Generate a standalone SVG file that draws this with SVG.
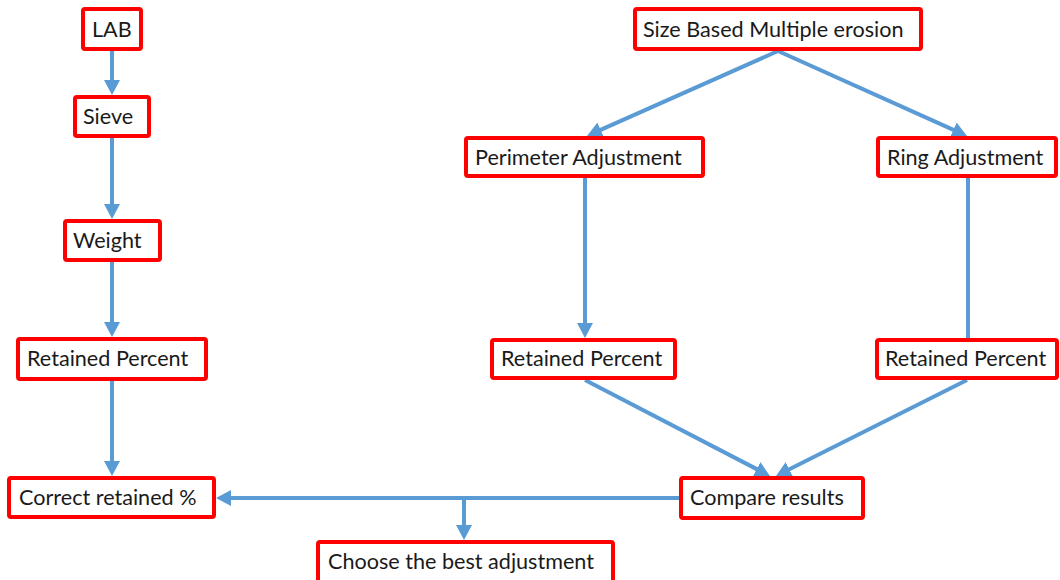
<svg xmlns="http://www.w3.org/2000/svg" width="1060" height="580" viewBox="0 0 1060 580">
  <style>
    .box { fill: #ffffff; stroke: #ff0000; stroke-width: 4; }
    .lbl { font-family: Lato, "Liberation Sans", sans-serif; font-size: 21.6px; fill: #1a1a1a; }
    .edge { fill: none; stroke: #5b9bd5; stroke-width: 4; }
  </style>
  <defs>
    <marker id="arrow" markerUnits="userSpaceOnUse" markerWidth="16" markerHeight="16" refX="5" refY="8" orient="auto">
      <path d="M0,0 L15,8 L0,16 Z" fill="#5b9bd5"/>
    </marker>
  </defs>
  <rect width="1060" height="580" fill="#ffffff"/>

  <g id="connectors">
    <line class="edge" x1="112" y1="51" x2="112" y2="85" marker-end="url(#arrow)"/>
    <line class="edge" x1="112" y1="138" x2="112" y2="209" marker-end="url(#arrow)"/>
    <line class="edge" x1="112" y1="262" x2="112" y2="327" marker-end="url(#arrow)"/>
    <line class="edge" x1="112" y1="381" x2="112" y2="466" marker-end="url(#arrow)"/>
    <line class="edge" x1="778" y1="51" x2="596.1" y2="131.9" marker-end="url(#arrow)"/>
    <line class="edge" x1="778" y1="51" x2="957.9" y2="131.9" marker-end="url(#arrow)"/>
    <line class="edge" x1="585" y1="178" x2="585" y2="328" marker-end="url(#arrow)"/>
    <line class="edge" x1="968" y1="178" x2="968" y2="338"/>
    <line class="edge" x1="585" y1="380" x2="761.1" y2="471.4" marker-end="url(#arrow)"/>
    <line class="edge" x1="967" y1="380" x2="784.9" y2="471.5" marker-end="url(#arrow)"/>
    <line class="edge" x1="679" y1="498" x2="226" y2="498" marker-end="url(#arrow)"/>
    <line class="edge" x1="464" y1="498" x2="464" y2="530" marker-end="url(#arrow)"/>
  </g>

  <g id="lab">
    <rect class="box" x="83" y="9" width="58" height="40" rx="2"/>
    <text class="lbl" x="92" y="37">LAB</text>
  </g>
  <g id="sieve">
    <rect class="box" x="75" y="97" width="74" height="39" rx="2"/>
    <text class="lbl" x="83" y="124">Sieve</text>
  </g>
  <g id="weight">
    <rect class="box" x="65" y="221" width="95" height="39" rx="2"/>
    <text class="lbl" x="73" y="248">Weight</text>
  </g>
  <g id="retained-lab">
    <rect class="box" x="18" y="339" width="188" height="40" rx="2"/>
    <text class="lbl" x="27" y="366">Retained Percent</text>
  </g>
  <g id="correct-retained">
    <rect class="box" x="9" y="478" width="205" height="39" rx="2"/>
    <text class="lbl" x="19" y="505">Correct retained %</text>
  </g>
  <g id="choose-best">
    <rect class="box" x="318" y="542" width="295" height="42" rx="2"/>
    <text class="lbl" x="328" y="569">Choose the best adjustment</text>
  </g>
  <g id="size-based">
    <rect class="box" x="635" y="9" width="286" height="40" rx="2"/>
    <text class="lbl" x="643" y="37">Size Based Multiple erosion</text>
  </g>
  <g id="perimeter">
    <rect class="box" x="466" y="138" width="237" height="38" rx="2"/>
    <text class="lbl" x="475" y="165">Perimeter Adjustment</text>
  </g>
  <g id="ring">
    <rect class="box" x="878" y="138" width="178" height="38" rx="2"/>
    <text class="lbl" x="887" y="165">Ring Adjustment</text>
  </g>
  <g id="retained-perimeter">
    <rect class="box" x="492" y="340" width="183" height="38" rx="2"/>
    <text class="lbl" x="501" y="366">Retained Percent</text>
  </g>
  <g id="retained-ring">
    <rect class="box" x="877" y="340" width="180" height="38" rx="2"/>
    <text class="lbl" x="885" y="366">Retained Percent</text>
  </g>
  <g id="compare">
    <rect class="box" x="681" y="478" width="182" height="40" rx="2"/>
    <text class="lbl" x="690" y="505">Compare results</text>
  </g>
</svg>
